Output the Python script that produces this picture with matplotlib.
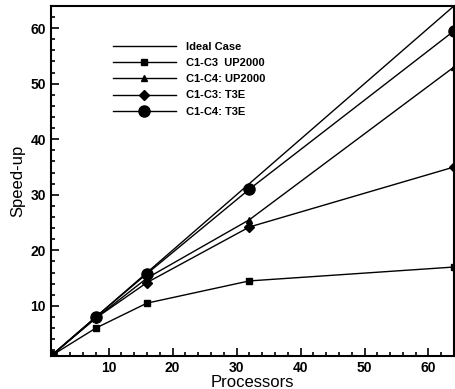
import matplotlib
matplotlib.use("Agg")
import matplotlib.pyplot as plt
from matplotlib.ticker import MultipleLocator

# data
procs = [1, 8, 16, 32, 64]
ideal = [1, 8, 16, 32, 64]
c13_up = [1, 6.0, 10.5, 14.5, 17.0]
c14_up = [1, 7.8, 15.0, 25.5, 53.0]
c13_t3e = [1, 7.8, 14.2, 24.2, 35.0]
c14_t3e = [1, 8.0, 15.8, 31.0, 59.5]
labels = ["Ideal Case", "C1-C3  UP2000", "C1-C4: UP2000", "C1-C3: T3E", "C1-C4: T3E"]

plt.rcParams['font.family'] = ['Liberation Sans', 'DejaVu Sans']

fig = plt.figure(figsize=(4.55, 3.89), dpi=100, facecolor='w')
ax = fig.add_axes([0.112, 0.085, 0.886, 0.90])

ax.plot(procs, ideal, 'k-', lw=1.0, label=labels[0])
ax.plot(procs, c13_up, 'k-', marker='s', ms=5, lw=1.0, label=labels[1])
ax.plot(procs, c14_up, 'k-', marker='^', ms=5, lw=1.0, label=labels[2])
ax.plot(procs, c13_t3e, 'k-', marker='D', ms=5, lw=1.0, label=labels[3])
ax.plot(procs, c14_t3e, 'k-', marker='o', ms=8, lw=1.0, label=labels[4])

ax.set_xlim(1, 64)
ax.set_ylim(1, 64)
ax.xaxis.set_major_locator(MultipleLocator(10))
ax.yaxis.set_major_locator(MultipleLocator(10))
ax.xaxis.set_minor_locator(MultipleLocator(2))
ax.yaxis.set_minor_locator(MultipleLocator(2))
ax.tick_params(which='both', direction='in', top=False, right=False, width=1.2)
ax.tick_params(which='major', length=6, labelsize=10)
ax.tick_params(which='minor', length=3)
for t in ax.get_xticklabels() + ax.get_yticklabels():
    t.set_fontweight('bold')
for s in ax.spines.values():
    s.set_linewidth(1.5)

ax.set_xlabel("Processors", fontsize=12, labelpad=0)
ax.set_ylabel("Speed-up", fontsize=12, labelpad=4)

leg = ax.legend(loc='upper left', bbox_to_anchor=(0.13, 0.925), frameon=False,
                handlelength=5.6, fontsize=8, labelspacing=0.55, handletextpad=0.9)
for t in leg.get_texts():
    t.set_fontweight('bold')

plt.savefig("out.png", dpi=100)
